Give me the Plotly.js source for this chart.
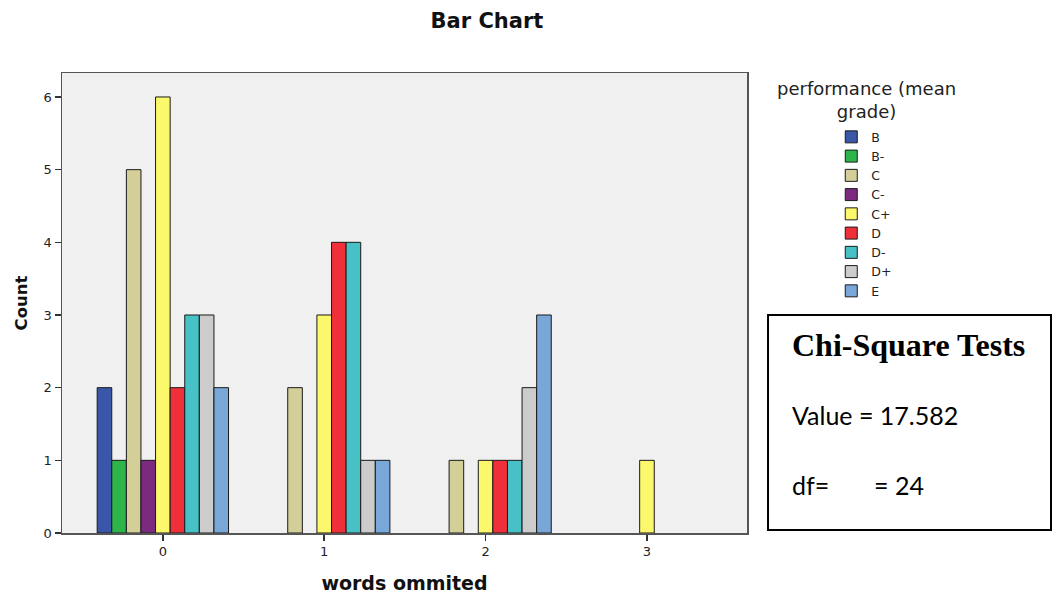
<!DOCTYPE html>
<html>
<head>
<meta charset="utf-8">
<script src="https://cdn.plot.ly/plotly-3.0.1.min.js"></script>
<style>html,body{margin:0;padding:0;background:#fff;}#chart{width:1054px;height:595px;}</style>
</head>
<body>
<div id="chart"></div>
<script>
// Data
const wordsOmitted = [0, 1, 2, 3];
const grades = ["B", "B-", "C", "C-", "C+", "D", "D-", "D+", "E"];
const countB      = [2, 0, 0, 0];
const countBminus = [1, 0, 0, 0];
const countC      = [5, 2, 1, 0];
const countCminus = [1, 0, 0, 0];
const countCplus  = [6, 3, 1, 1];
const countD      = [2, 4, 1, 0];
const countDminus = [3, 4, 1, 0];
const countDplus  = [3, 1, 2, 0];
const countE      = [2, 1, 3, 0];
const gradeColors = ["#3a56a8", "#2db54a", "#d4cf98", "#7c2a80", "#fbf86c", "#ef2f39", "#48c1c6", "#cccccc", "#79a8d8"];
const chiTitle = "Chi-Square Tests";
const chiValue = "Value = 17.582";
const chiDfLabel = "df=";
const chiDfValue = "= 24";

const seriesCounts = [countB, countBminus, countC, countCminus, countCplus, countD, countDminus, countDplus, countE];

const traces = grades.map((g, i) => ({
  type: "bar",
  name: g,
  x: wordsOmitted,
  y: seriesCounts[i].map(v => v === 0 ? null : v),
  marker: { color: gradeColors[i], line: { color: "#1a1a1a", width: 1 } },
  hoverinfo: "x+y+name"
}));

const wide = "DejaVu Sans, Verdana, sans-serif";
const arial = "Liberation Sans, Arial, sans-serif";

const layout = {
  width: 1054, height: 595,
  margin: { l: 62, r: 307, t: 73, b: 62 },
  paper_bgcolor: "#ffffff",
  plot_bgcolor: "#f0f0f0",
  barmode: "group",
  bargap: 0.186,
  bargroupgap: 0,
  showlegend: true,
  font: { family: arial, color: "#222" },
  title: { text: "<b>Bar Chart</b>", x: 0.462, xanchor: "center", y: 0.965, yanchor: "middle",
           font: { family: wide, size: 21, color: "#111" } },
  xaxis: {
    range: [-0.625, 3.62],
    tickvals: wordsOmitted,
    ticktext: wordsOmitted.map(String),
    ticks: "outside", ticklen: 6, tickcolor: "#333", tickwidth: 1.5,
    showgrid: false, zeroline: false,
    showline: true, linecolor: "#555", linewidth: 1.5, mirror: true,
    tickfont: { family: wide, size: 13, color: "#222" },
    title: { text: "<b>words ommited</b>", font: { family: wide, size: 19, color: "#111" }, standoff: 18 }
  },
  yaxis: {
    range: [0, 6.33],
    tickvals: [0, 1, 2, 3, 4, 5, 6],
    ticks: "outside", ticklen: 6, tickcolor: "#333", tickwidth: 1.5,
    showgrid: false, zeroline: false,
    showline: true, linecolor: "#555", linewidth: 1.5, mirror: true,
    tickfont: { family: wide, size: 13, color: "#222" },
    title: { text: "<b>Count</b>", font: { family: wide, size: 16.5, color: "#111" }, standoff: 12 }
  },
  legend: {
    x: 1.123, xanchor: "left", y: 0.893, yanchor: "top",
    bgcolor: "rgba(0,0,0,0)",
    font: { family: wide, size: 12.5, color: "#222" },
    tracegroupgap: 0, itemwidth: 30,
    traceorder: "normal"
  },
  annotations: [
    { xref: "paper", yref: "paper", x: 1.175, y: 0.941, xanchor: "center", yanchor: "middle",
      text: "performance (mean<br>grade)", showarrow: false, align: "center",
      font: { family: wide, size: 18, color: "#222" } },
    { xref: "paper", yref: "paper", x: 1.0628, y: 0.4087, xanchor: "left", yanchor: "middle",
      text: "<b>" + chiTitle + "</b>", showarrow: false,
      font: { family: "Liberation Serif, Times New Roman, serif", size: 32, color: "#000" } },
    { xref: "paper", yref: "paper", x: 1.0628, y: 0.2565, xanchor: "left", yanchor: "middle",
      text: chiValue, showarrow: false,
      font: { family: "Lato, sans-serif", size: 25, color: "#000" } },
    { xref: "paper", yref: "paper", x: 1.0628, y: 0.1043, xanchor: "left", yanchor: "middle",
      text: chiDfLabel, showarrow: false,
      font: { family: "Lato, sans-serif", size: 25, color: "#000" } },
    { xref: "paper", yref: "paper", x: 1.1825, y: 0.1043, xanchor: "left", yanchor: "middle",
      text: chiDfValue, showarrow: false,
      font: { family: "Lato, sans-serif", size: 25, color: "#000" } }
  ],
  shapes: [
    { type: "rect", xref: "paper", yref: "paper", x0: 1.0307, x1: 1.4438, y0: 0.0065, y1: 0.474,
      line: { color: "#000", width: 2 }, fillcolor: "rgba(0,0,0,0)" }
  ]
};

Plotly.newPlot("chart", traces, layout, { displayModeBar: false, staticPlot: true });
</script>
</body>
</html>
